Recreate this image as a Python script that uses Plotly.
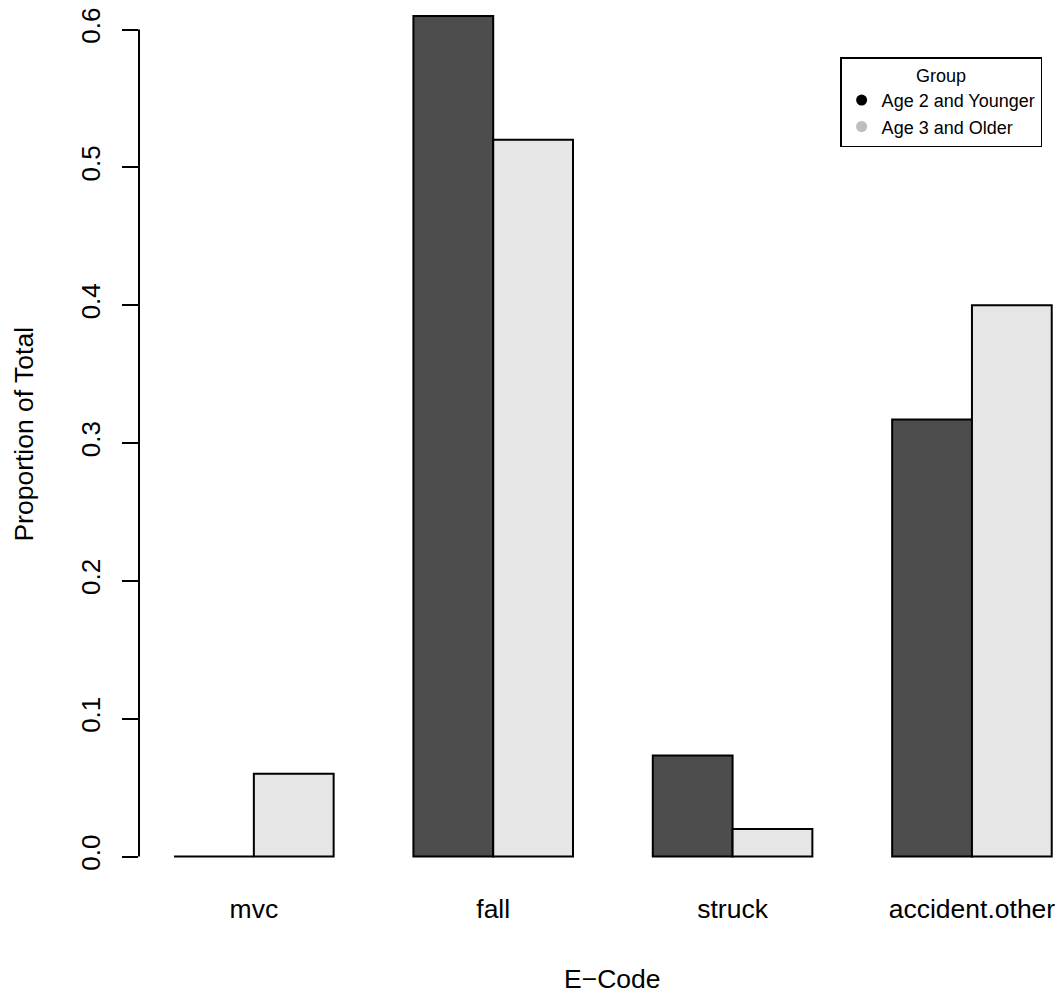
import plotly.graph_objects as go

categories = ["mvc", "fall", "struck", "accident.other"]
young = [0.0, 0.6098, 0.0732, 0.3171]
older = [0.06, 0.52, 0.02, 0.40]
group_names = ["Age 2 and Younger", "Age 3 and Older"]
y_ticks = [0.0, 0.1, 0.2, 0.3, 0.4, 0.5, 0.6]
y_tick_labels = ["0.0", "0.1", "0.2", "0.3", "0.4", "0.5", "0.6"]

FONT = "Liberation Sans, Arial, Helvetica, sans-serif"
W, H = 1063, 996
L, B = 138.5, 106
plot_w = W - L
plot_h = H - B

fig = go.Figure()
fig.add_trace(go.Bar(x=categories, y=young, name=group_names[0], showlegend=False,
                     marker=dict(color="#4d4d4d", line=dict(color="black", width=2))))
fig.add_trace(go.Bar(x=categories, y=older, name=group_names[1], showlegend=False,
                     marker=dict(color="#e6e6e6", line=dict(color="black", width=2))))
# legend-only entries
fig.add_trace(go.Scatter(x=[None], y=[None], mode="markers", name=group_names[0],
                         marker=dict(color="black", size=11, symbol="circle")))
fig.add_trace(go.Scatter(x=[None], y=[None], mode="markers", name=group_names[1],
                         marker=dict(color="#bebebe", size=11, symbol="circle")))

fig.add_shape(type="line", xref="paper", yref="y", x0=0, x1=0,
              y0=y_ticks[0], y1=y_ticks[-1], line=dict(color="black", width=2))

fig.update_layout(
    width=W, height=H,
    margin=dict(l=L, r=0, t=0, b=B, pad=0),
    paper_bgcolor="white", plot_bgcolor="white",
    font=dict(family=FONT, size=26, color="black"),
    barmode="group", bargap=1/3, bargroupgap=0,
    xaxis=dict(range=[-0.4798, 3.3804], showgrid=False, zeroline=False, showline=False,
               ticks="", tickfont=dict(size=26.5), fixedrange=True),
    yaxis=dict(range=[-0.0243, 0.6214], showgrid=False, zeroline=False, showline=False,
               tickmode="array", tickvals=y_ticks, ticktext=y_tick_labels,
               ticks="outside", ticklen=16, tickwidth=2, tickcolor="black",
               tickangle=-90, tickfont=dict(size=26), ticklabelstandoff=12),
    legend=dict(x=(840 - L) / plot_w, y=1 - 57 / plot_h, xanchor="left", yanchor="top",
                bgcolor="white", bordercolor="black", borderwidth=1.5,
                font=dict(size=18), title=dict(text="Group", side="top center", font=dict(size=18))),
    annotations=[
        dict(text="Proportion of Total", xref="paper", yref="paper",
             x=(23 - L) / plot_w, y=1 - 434 / plot_h, textangle=-90, showarrow=False,
             xanchor="center", yanchor="middle", font=dict(size=26.5)),
        dict(text="E\u2212Code", xref="paper", yref="paper",
             x=(612.5 - L) / plot_w, y=1 - 979 / plot_h, showarrow=False,
             xanchor="center", yanchor="middle", font=dict(size=26.5)),
    ],
)

fig.write_html("out.html")
